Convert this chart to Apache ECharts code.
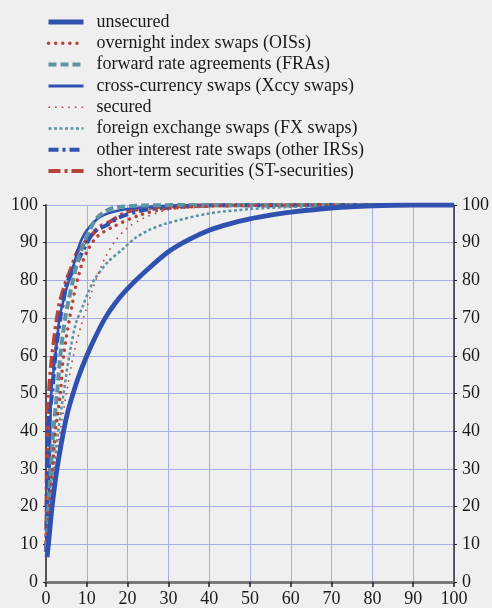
<!DOCTYPE html>
<html>
<head>
<meta charset="utf-8">
<script src="https://cdn.jsdelivr.net/npm/echarts@6/dist/echarts.min.js"></script>
<style>
html,body{margin:0;padding:0;background:#efefef;}
#chart{width:492px;height:608px;}
</style>
</head>
<body>
<div id="chart"></div>
<script>
// ---- data ----
var seriesNames = [
  'unsecured',
  'overnight index swaps (OISs)',
  'forward rate agreements (FRAs)',
  'cross-currency swaps (Xccy swaps)',
  'secured',
  'foreign exchange swaps (FX swaps)',
  'other interest rate swaps (other IRSs)',
  'short-term securities (ST-securities)'
];
var xTicks = [0, 10, 20, 30, 40, 50, 60, 70, 80, 90, 100];
var yTicks = [0, 10, 20, 30, 40, 50, 60, 70, 80, 90, 100];

var unsecuredX = [0.25, 0.6, 1.5, 2.7, 4.3, 5.3, 6.5, 8, 10, 12, 14.5, 17, 20, 25, 30, 35, 40, 45, 50, 55, 60, 70, 80, 90, 100];
var unsecuredY = [6.6, 10, 20, 30, 40, 45, 49.5, 54.5, 60, 64.8, 70, 74, 77.8, 83, 87.6, 90.8, 93.3, 95, 96.3, 97.3, 98.1, 99.2, 99.8, 100, 100];

var oisX = [0.2, 0.8, 1.6, 2.3, 3.5, 4.3, 5.8, 6.4, 7.0, 7.8, 8.7, 9.8, 12.4, 16.4, 22.9, 29.4, 40, 50, 60, 100];
var oisY = [9, 20, 30, 40, 50, 60, 70, 73.4, 77, 80.5, 84, 87.1, 91.5, 94.2, 97.3, 99, 99.7, 99.9, 100, 100];

var fraX = [0.2, 0.6, 1.2, 1.8, 2.7, 3.5, 4.7, 5.5, 6.7, 8.0, 9.3, 10.8, 12.4, 14.8, 17.3, 25, 40, 100];
var fraY = [9, 20, 30, 40, 50, 60, 70, 74.5, 80.5, 86, 90, 93.5, 96.5, 98.5, 99.4, 99.9, 100, 100];

var xccyX = [0.2, 0.5, 0.9, 1.3, 2.3, 3.3, 3.9, 4.7, 5.9, 7.1, 8.3, 10, 13.2, 18.1, 25, 30, 40, 100];
var xccyY = [9, 20, 30, 50, 60, 70, 73, 76.5, 80.9, 85.3, 89.8, 93.3, 96.8, 98.6, 99.5, 99.8, 100, 100];

var securedX = [0.3, 1.2, 2.3, 3.5, 5.0, 6.7, 8.6, 10, 11.2, 12.4, 14.4, 16.8, 19.7, 23.7, 29.5, 36, 50, 100];
var securedY = [8, 20, 30, 40, 50, 60, 68, 72.8, 76.9, 80.6, 85.8, 90.2, 93.7, 96.4, 98.6, 99.3, 99.9, 100];

var fxX = [0.3, 1.0, 1.9, 3.0, 4.3, 5.7, 7.3, 9.1, 10.4, 12, 15.2, 18.5, 21.7, 25, 29.5, 39.7, 49.7, 60, 75, 100];
var fxY = [8, 20, 30, 40, 50, 60, 68.5, 73.4, 76.9, 80.5, 84.9, 88, 91.1, 93.2, 95.1, 97.7, 98.9, 99.5, 99.9, 100];

var irsX = [0.1, 0.2, 0.3, 0.4, 1.5, 2.3, 3.5, 4.3, 5.1, 6.7, 8.7, 10, 11.6, 14.8, 18.1, 23.7, 29.5, 40, 100];
var irsY = [8, 20, 30, 40, 50, 60, 70, 74.7, 79.2, 82.7, 87.1, 89.8, 92.8, 94.6, 96.8, 98.6, 99.3, 99.9, 100];

var stX = [0.1, 0.15, 0.2, 0.3, 0.7, 1.5, 2.7, 3.5, 5.0, 6.3, 7.9, 10.8, 13.2, 15.6, 19.7, 23.7, 29.5, 40, 100];
var stY = [8, 20, 30, 40, 50, 60, 70, 74.7, 80, 83.6, 88, 91.5, 94.2, 95.5, 98.1, 99, 99.6, 99.9, 100];

// ---- styles ----
var BLUE = '#3151b0', RED = '#b8433b', TEAL = '#5d93a3';
function pairs(xs, ys){ return xs.map(function(x,i){ return [x, ys[i]]; }); }

var defs = [
  {x: unsecuredX, y: unsecuredY, ls: {color: BLUE, width: 4.8, type: 'solid'}, lg: {width: 5}},
  {x: oisX, y: oisY, ls: {color: RED, width: 3.5, type: [0.1, 7], cap: 'round'}, lg: {width: 3.5}},
  {x: fraX, y: fraY, ls: {color: TEAL, width: 4, type: [8, 4]}, lg: {width: 4}},
  {x: xccyX, y: xccyY, ls: {color: BLUE, width: 2.5, type: 'solid'}, lg: {width: 3}},
  {x: securedX, y: securedY, ls: {color: RED, width: 1.6, type: [1.6, 5]}, lg: {width: 1.6}},
  {x: fxX, y: fxY, ls: {color: TEAL, width: 2.5, type: [3, 2.5]}, lg: {width: 2.5}},
  {x: irsX, y: irsY, ls: {color: BLUE, width: 4, type: [10, 4, 3, 4]}, lg: {width: 4}},
  {x: stX, y: stY, ls: {color: RED, width: 4, type: [12, 4, 3, 4]}, lg: {width: 4}}
];

var FONT = '"Liberation Serif", "Times New Roman", Times, serif';
var series = defs.map(function(d, i){
  return {
    name: seriesNames[i],
    type: 'line',
    data: pairs(d.x, d.y),
    showSymbol: false,
    symbol: 'none',
    smooth: 0.3,
    lineStyle: d.ls,
    itemStyle: {color: d.ls.color},
    z: 10 - i
  };
});

var legendData = defs.map(function(d, i){
  return {
    name: seriesNames[i],
    itemStyle: {color: 'rgba(0,0,0,0)', borderWidth: 0, opacity: 0},
    lineStyle: {width: d.lg.width, type: d.ls.type, color: d.ls.color, cap: d.ls.cap || 'butt', opacity: 1}
  };
});

var chart = echarts.init(document.getElementById('chart'), null, {renderer: 'canvas'});
chart.setOption({
  backgroundColor: '#efefef',
  animation: false,
  textStyle: {fontFamily: FONT},
  legend: {
    orient: 'vertical',
    left: 46, top: 13, padding: 0,
    itemWidth: 35, itemHeight: 10, itemGap: 3.3,
    data: legendData,
    textStyle: {fontFamily: FONT, fontSize: 18, lineHeight: 18, color: '#1a1a1a', padding: [0, 0, 0, 8]}
  },
  grid: {left: 46, right: 35, top: 205, bottom: 26},
  xAxis: {
    type: 'value', min: xTicks[0], max: xTicks[xTicks.length - 1], interval: 10,
    axisLine: {onZero: false, lineStyle: {color: '#7a7a7a', width: 3}},
    axisTick: {show: true, length: 5, lineStyle: {color: '#222', width: 1.5}},
    axisLabel: {color: '#1a1a1a', fontFamily: FONT, fontSize: 18, margin: 8},
    splitLine: {show: true, lineStyle: {color: '#a7ade6', width: 1}}
  },
  yAxis: [{
    type: 'value', position: 'left', min: yTicks[0], max: yTicks[yTicks.length - 1], interval: 10,
    axisLine: {show: true, lineStyle: {color: '#555', width: 2}},
    axisTick: {show: true, length: 3, lineStyle: {color: '#222'}},
    axisLabel: {color: '#1a1a1a', fontFamily: FONT, fontSize: 18, margin: 8},
    splitLine: {show: true, lineStyle: {color: '#a7ade6', width: 1}}
  }, {
    type: 'value', position: 'right', min: yTicks[0], max: yTicks[yTicks.length - 1], interval: 10,
    axisLine: {show: true, lineStyle: {color: '#333', width: 1.5}},
    axisTick: {show: true, length: 3, lineStyle: {color: '#222'}},
    axisLabel: {color: '#1a1a1a', fontFamily: FONT, fontSize: 18, margin: 8},
    splitLine: {show: false}
  }],
  series: series
});
</script>
</body>
</html>
